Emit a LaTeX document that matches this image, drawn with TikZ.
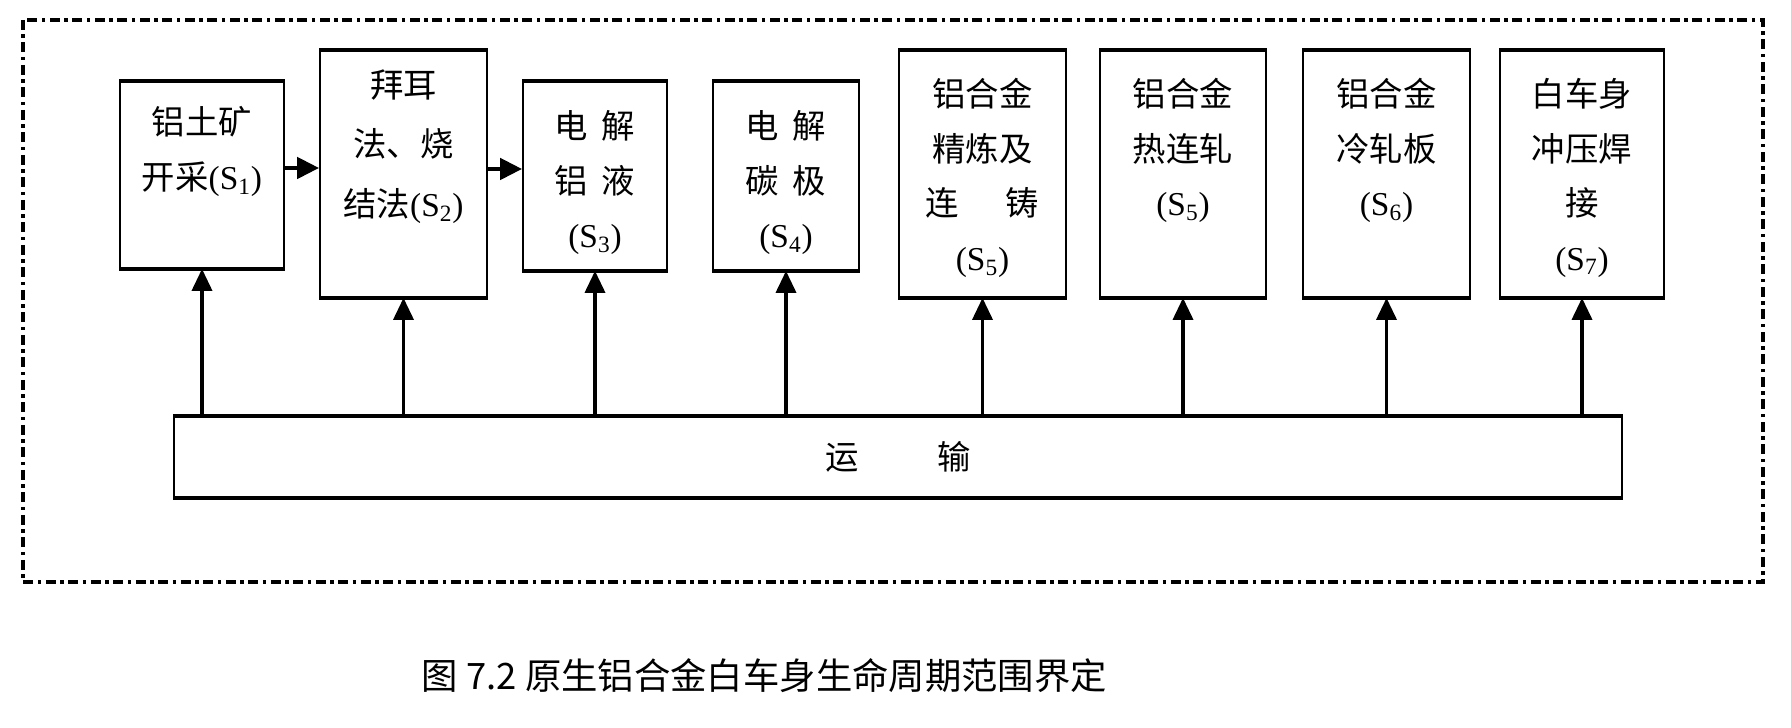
\documentclass[tikz,border=0pt]{standalone}
\usepackage{fontspec}
\setmainfont{Liberation Serif}
\newfontfamily\cjk{Noto Sans CJK SC}
\usetikzlibrary{arrows.meta}

% 阶段编号 (S_i)
\newcommand{\sn}[1]{{\rmfamily(S\textsubscript{#1})}}

\begin{document}
\begin{tikzpicture}[
    box/.style 2 args={draw, line width=1pt, minimum width=#1, minimum height=#2, inner sep=0pt},
    txt/.style={anchor=north, align=center, inner sep=0pt, font=\cjk\fontsize{19}{31}\selectfont},
    edge/.style={line width=2.3pt},
    uparr/.style={-{Triangle[length=0.44cm, width=0.4cm]}, line width=2pt},
    rarr/.style={-{Triangle[length=0.44cm, width=0.42cm]}, line width=2.6pt},
    frame/.style={line width=2pt, dash pattern=on 0.2cm off 0.09cm on 0.07cm off 0.09cm}
  ]
  \useasboundingbox (0,0) rectangle (35.82,14.56);

  % 系统边界
  \draw[frame] (0.46,14.16) rectangle (35.26,2.92);

  % 各阶段方框
  \node[box={3.28cm}{3.72cm}] (mine)     at (4.04,11.06)  {};
  \node[box={3.34cm}{4.92cm}] (bayer)    at (8.07,11.08)  {};
  \node[box={2.88cm}{3.76cm}] (cell)     at (11.90,11.04) {};
  \node[box={2.92cm}{3.76cm}] (anode)    at (15.72,11.04) {};
  \node[box={3.34cm}{4.92cm}] (cast)     at (19.65,11.08) {};
  \node[box={3.32cm}{4.92cm}] (hotroll)  at (23.66,11.08) {};
  \node[box={3.34cm}{4.92cm}] (coldroll) at (27.73,11.08) {};
  \node[box={3.28cm}{4.92cm}] (biw)      at (31.64,11.08) {};

  % 方框内文字
  \node[txt] (tmine)     at ([yshift=-0.5cm]mine.north)      {铝土矿\\开采\sn{1}};
  \node[txt] (tbayer)    at ([yshift=-0.38cm]bayer.north)    {拜耳\\[3pt]法、烧\\[3pt]结法\sn{2}};
  \node[txt] (tcell)     at ([yshift=-0.58cm]cell.north)     {电\hspace{0.4em}解\\铝\hspace{0.4em}液\\\sn{3}};
  \node[txt] (tanode)    at ([yshift=-0.58cm]anode.north)    {电\hspace{0.4em}解\\碳\hspace{0.4em}极\\\sn{4}};
  \node[txt] (tcast)     at ([yshift=-0.56cm]cast.north)     {铝合金\\精炼及\\连\hspace{1.4em}铸\\\sn{5}};
  \node[txt] (thotroll)  at ([yshift=-0.56cm]hotroll.north)  {铝合金\\热连轧\\\sn{5}};
  \node[txt] (tcoldroll) at ([yshift=-0.56cm]coldroll.north) {铝合金\\冷轧板\\\sn{6}};
  \node[txt] (tbiw)      at ([yshift=-0.56cm]biw.north)      {白车身\\冲压焊\\接\\\sn{7}};

  % 运输
  \node[box={28.96cm}{1.6cm}, font=\cjk\fontsize{19}{23}\selectfont] (trans) at (17.96,5.42) {运\hspace{2.35em}输};

  % 上下边加粗
  \foreach \n in {mine,bayer,cell,anode,cast,hotroll,coldroll,biw,trans}
    \draw[edge] (\n.north west) -- (\n.north east) (\n.south west) -- (\n.south east);

  % 运输到各阶段的箭头
  \foreach \n in {mine,bayer,cell,anode,cast,hotroll,coldroll,biw}
    \draw[uparr] (trans.north -| \n.south) -- (\n.south);

  % 物料流向
  \draw[rarr] ([yshift=1.4mm]mine.east) -- ([yshift=1.4mm]mine.east -| bayer.west);
  \draw[rarr] ([yshift=1mm]bayer.east) -- ([yshift=1mm]bayer.east -| cell.west);

  % 图题
  \node[font=\cjk\fontsize{20.7}{24}\selectfont] (cap) at (15.29,1.04) {图 7.2 原生铝合金白车身生命周期范围界定};
\end{tikzpicture}
\end{document}
